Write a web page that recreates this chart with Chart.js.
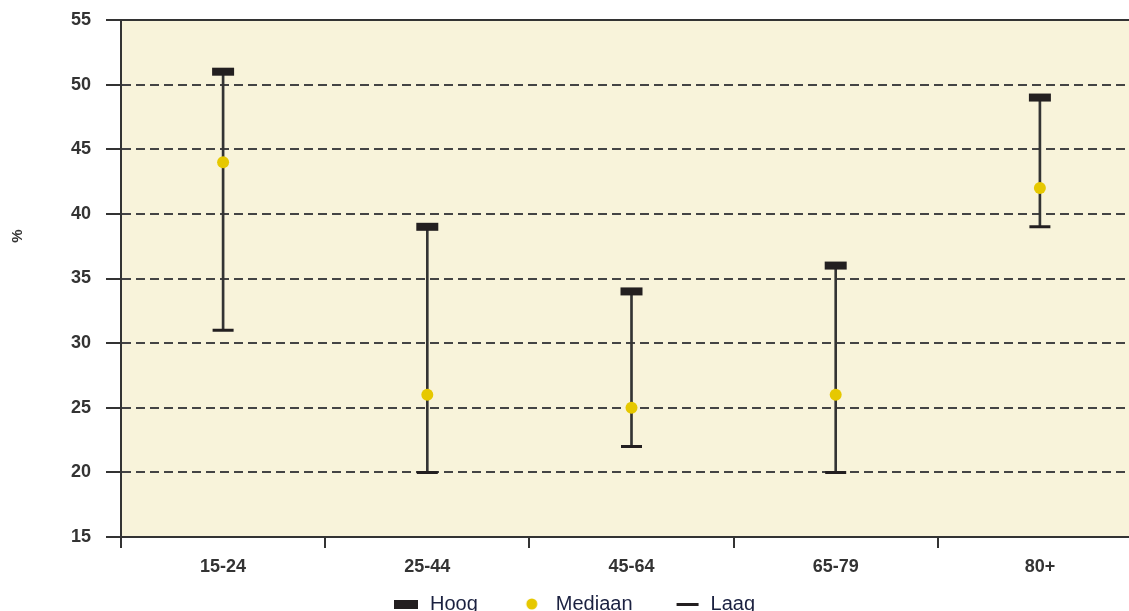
<!DOCTYPE html>
<html>
<head>
<meta charset="utf-8">
<script src="https://cdn.jsdelivr.net/npm/chart.js@4/dist/chart.umd.min.js"></script>
<style>
  html, body { margin: 0; padding: 0; overflow: hidden; background: #fff; }
  canvas { display: block; }
</style>
</head>
<body>
<canvas id="chart" width="1161" height="624"></canvas>
<script>
const ageGroups = ['15-24', '25-44', '45-64', '65-79', '80+'];
const hoog = [51, 39, 34, 36, 49];
const mediaan = [44, 26, 25, 26, 42];
const laag = [31, 20, 22, 20, 39];
const yTicks = [15, 20, 25, 30, 35, 40, 45, 50, 55];

const ink = '#231f20';
const yellow = '#e6c800';
const font = '"Liberation Sans", Arial, sans-serif';

// legend markers, drawn on small canvases (right-aligned in a 60px box)
function marker(w, h, draw) {
  const c = document.createElement('canvas');
  c.width = w; c.height = h;
  draw(c.getContext('2d'));
  return c;
}
const hoogIcon = marker(60, 9, g => { g.fillStyle = ink; g.fillRect(34, 0, 24, 9); });
const medIcon = marker(60, 12, g => { g.fillStyle = yellow; g.beginPath(); g.arc(46, 6, 5.5, 0, Math.PI * 2); g.fill(); });
const laagIcon = marker(60, 3, g => { g.fillStyle = ink; g.fillRect(36, 0, 22, 3); });

const plotBg = {
  id: 'plotBg',
  beforeDraw(chart) {
    const { ctx, chartArea: a } = chart;
    ctx.save();
    ctx.fillStyle = '#f8f3da';
    ctx.fillRect(a.left, a.top, a.right - a.left, a.bottom - a.top);
    ctx.restore();
  },
  afterDraw(chart) {
    const { ctx, chartArea: a } = chart;
    ctx.save();
    ctx.strokeStyle = '#333';
    ctx.lineWidth = 2;
    ctx.beginPath();
    ctx.moveTo(a.left, a.top);
    ctx.lineTo(a.right, a.top);
    ctx.stroke();
    // rotated axis title
    ctx.translate(18, 236);
    ctx.rotate(-Math.PI / 2);
    ctx.fillStyle = '#333';
    ctx.font = 'bold 15px ' + font;
    ctx.textAlign = 'center';
    ctx.textBaseline = 'middle';
    ctx.fillText('%', 0, 0);
    ctx.restore();
  }
};

const ctx = document.getElementById('chart').getContext('2d');

new Chart(ctx, {
  data: {
    labels: ageGroups,
    datasets: [
      {
        type: 'bar',
        label: 'range',
        data: ageGroups.map((g, i) => [laag[i], hoog[i]]),
        backgroundColor: '#333',
        barThickness: 2,
        grouped: false,
        order: 3
      },
      {
        type: 'line',
        label: 'Laag',
        data: laag,
        showLine: false,
        pointStyle: 'line',
        pointRadius: 10.5,
        pointHoverRadius: 10.5,
        pointBorderWidth: 3,
        borderColor: ink,
        order: 2
      },
      {
        type: 'line',
        label: 'Hoog',
        data: hoog,
        showLine: false,
        pointStyle: 'line',
        pointRadius: 11,
        pointHoverRadius: 11,
        pointBorderWidth: 8,
        borderColor: ink,
        order: 2
      },
      {
        type: 'line',
        label: 'Mediaan',
        data: mediaan,
        showLine: false,
        pointStyle: 'circle',
        pointRadius: 6,
        pointHoverRadius: 6,
        pointBorderWidth: 0,
        backgroundColor: yellow,
        borderColor: yellow,
        order: 1
      }
    ]
  },
  options: {
    responsive: false,
    animation: false,
    layout: { padding: { top: 4, right: 0, left: -46, bottom: 0 } },
    plugins: {
      tooltip: { enabled: false },
      legend: {
        position: 'bottom',
        labels: {
          usePointStyle: true,
          pointStyleWidth: 60,
          padding: 8,
          color: '#1b2140',
          font: { family: font, size: 20 },
          generateLabels() {
            return [
              { text: 'Hoog', pointStyle: hoogIcon, lineWidth: 0, fontColor: '#1b2140', hidden: false },
              { text: 'Mediaan', pointStyle: medIcon, lineWidth: 0, fontColor: '#1b2140', hidden: false },
              { text: 'Laag', pointStyle: laagIcon, lineWidth: 0, fontColor: '#1b2140', hidden: false }
            ];
          }
        }
      }
    },
    scales: {
      x: {
        offset: true,
        grid: {
          offset: true,
          drawOnChartArea: false,
          color: '#333',
          lineWidth: 2,
          tickLength: 11
        },
        border: { color: '#333', width: 2 },
        ticks: {
          padding: 8.2,
          color: '#333',
          font: { family: font, size: 18, weight: 'bold' }
        }
      },
      y: {
        min: 15,
        max: 55,
        afterFit(scale) { scale.width = 167; },
        afterBuildTicks(scale) { scale.ticks = yTicks.map(v => ({ value: v })); },
        grid: {
          color: '#444',
          lineWidth: 2,
          tickLength: 15,
          tickColor: '#333',
          tickWidth: 2
        },
        border: { color: '#333', width: 2, dash: [9, 5] },
        ticks: {
          padding: 15,
          color: '#333',
          font: { family: font, size: 18, weight: 'bold', lineHeight: '10px' }
        }
      }
    }
  },
  plugins: [plotBg]
});
</script>
</body>
</html>
